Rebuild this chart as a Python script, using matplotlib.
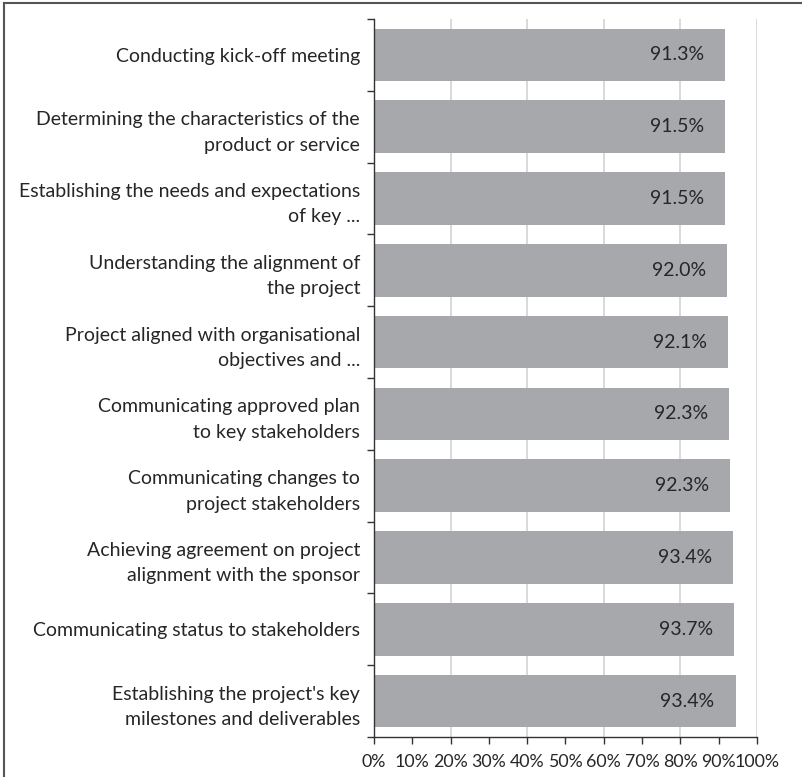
import numpy as np
import matplotlib
matplotlib.use('Agg')
from matplotlib import pyplot as plt
from matplotlib.lines import Line2D
from matplotlib.ticker import FixedLocator, FuncFormatter


## data
categories = [
    'Conducting kick-off meeting',
    'Determining the characteristics of the\nproduct or service',
    'Establishing the needs and expectations\nof key ...',
    'Understanding the alignment of\nthe project',
    'Project aligned with organisational\nobjectives and ...',
    'Communicating approved plan\nto key stakeholders',
    'Communicating changes to\nproject stakeholders',
    'Achieving agreement on project\nalignment with the sponsor',
    'Communicating status to stakeholders',
    "Establishing the project's key\nmilestones and deliverables",
]
barValues = [91.6, 91.6, 91.6, 92.1, 92.4, 92.6, 92.9, 93.7, 93.9, 94.4]     # bar lengths as drawn
barLabels = ['91.3%', '91.5%', '91.5%', '92.0%', '92.1%', '92.3%', '92.3%', '93.4%', '93.7%', '93.4%']
xTicks = list(range(0, 101, 10))


## style
plt.rcParams['font.family'] = ['Lato', 'DejaVu Sans']
barColor = '#a7a8ab'
textColor = '#262626'
fontSize = 14

fig = plt.figure(figsize=(8.03, 7.77), dpi=100)
ax = fig.add_axes([374/803, 1-737/777, (757-374)/803, (737-19)/777])

# outer frame (only left and top edges show)
fig.lines.append(Line2D([4/803, 4/803], [0, 1-3/777], transform=fig.transFigure,
                        color='#555555', linewidth=1.5))
fig.lines.append(Line2D([4/803, 1], [1-3/777, 1-3/777], transform=fig.transFigure,
                        color='#555555', linewidth=1.5))

yPos = np.arange(len(categories))
ax.barh(yPos, barValues, height=0.73, color=barColor, zorder=2)

# value labels inside bar ends
for y, v, s in zip(yPos, barValues, barLabels):
    ax.annotate(s, xy=(v, y), xytext=(-21, 0), textcoords='offset pixels',
                ha='right', va='center', fontsize=fontSize, color=textColor, zorder=3)

ax.set_xlim(0, 100)
ax.set_ylim(len(categories)-0.5, -0.5)

# grid every 20%
for g in range(20, 101, 20):
    ax.axvline(g, color='#d9d9d9', linewidth=1.4, zorder=1)

ax.set_xticks(xTicks)
ax.xaxis.set_major_formatter(FuncFormatter(lambda v, p: '%d%%' % v))
ax.tick_params(axis='x', length=5, width=1, color='#333333', labelsize=12.8,
               labelcolor=textColor, pad=7)

ax.set_yticks(yPos)
ax.set_yticklabels(categories, fontsize=fontSize, color=textColor, linespacing=1.6)
ax.tick_params(axis='y', length=0, pad=10)
ax.yaxis.set_minor_locator(FixedLocator(np.arange(-0.5, len(categories), 1.0)))
ax.tick_params(axis='y', which='minor', length=5, width=1, color='#333333')

for side in ['top', 'right']:
    ax.spines[side].set_visible(False)
for side in ['left', 'bottom']:
    ax.spines[side].set_color('#333333')
    ax.spines[side].set_linewidth(1)

fig.savefig('out.png', dpi=100)
